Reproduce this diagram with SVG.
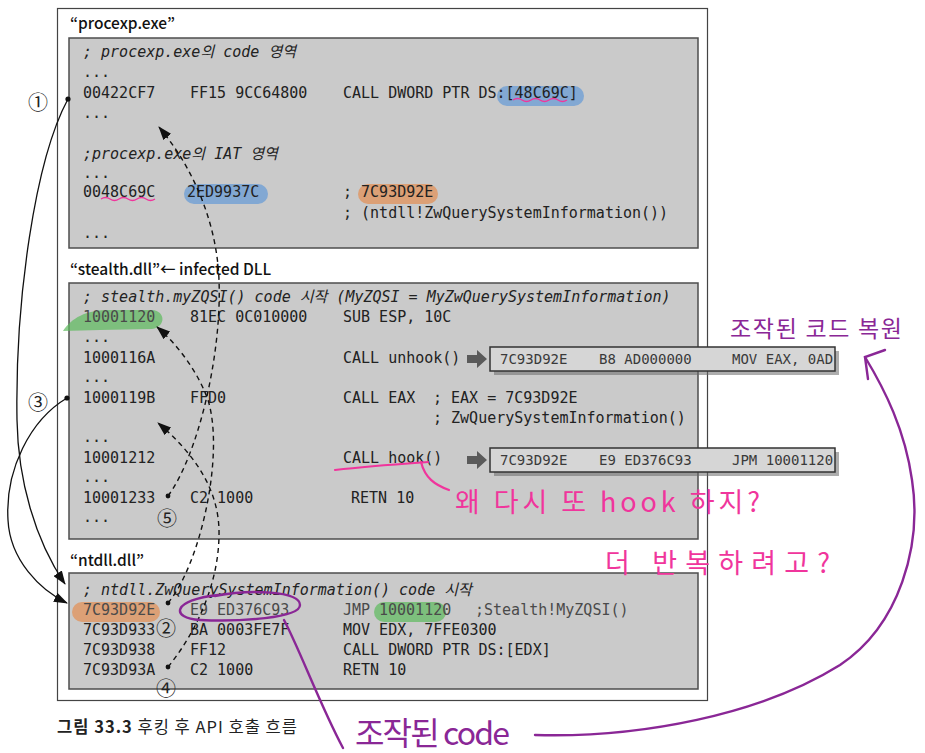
<svg xmlns="http://www.w3.org/2000/svg" width="925" height="753" viewBox="0 0 925 753">
<style>
.code{font-family:"DejaVu Sans Mono","Noto Sans CJK KR",monospace;font-size:15px;fill:#222}
.cm{font-style:italic}
.gr{fill:#4a4a4a}
.title{font-family:"Noto Sans CJK KR","Noto Sans",sans-serif;font-size:15.5px;font-weight:500;fill:#111}
.box{fill:#cacaca;stroke:#4d4d4d;stroke-width:1.5}
.pop{fill:#d6d6d6;stroke:#333;stroke-width:1.5}
.shadow{fill:#6a6a6a;opacity:0.55}
.popt{font-family:"DejaVu Sans Mono",monospace;font-size:14px;fill:#3a3a3a}
.garrow{fill:#5a5a5a}
.solid{fill:none;stroke:#111;stroke-width:1.3}
.dash{fill:none;stroke:#111;stroke-width:1.4;stroke-dasharray:5 4}
.dot{fill:#111}
.num{font-family:"Noto Sans CJK KR",sans-serif;font-size:20px;fill:#222}
.pink{fill:none;stroke:#f0359c;stroke-width:2.2;stroke-linecap:round}
.wave{fill:none;stroke:#f0359c;stroke-width:1.3}
.pinkt{font-family:"Noto Sans CJK KR",sans-serif;fill:#f0359c;font-weight:400}
.purp{fill:none;stroke:#8a2796;stroke-width:2.4;stroke-linecap:round}
.purpt{font-family:"Noto Sans CJK KR",sans-serif;fill:#8a2796;font-weight:400}
.blue{fill:#6f9fd4;opacity:0.8}
.orange{fill:#e2925a;opacity:0.75}
.green{fill:#5cbb5c;opacity:0.7}
</style>
<defs>
<marker id="ah" viewBox="0 0 14 10" refX="13" refY="5" markerWidth="14" markerHeight="10" orient="auto" markerUnits="userSpaceOnUse">
<path d="M0,0 L14,5 L0,10 z" fill="#111"/>
</marker>
</defs>
<rect width="925" height="753" fill="#fff"/>
<rect x="57.5" y="8.5" width="650" height="692" fill="none" stroke="#444" stroke-width="1.2"/>

<g id="procexp">
<text class="title" x="70" y="29">“procexp.exe”</text>
<rect class="box" x="69" y="38" width="629" height="210"/>
<rect class="blue" x="497" y="86" width="87" height="20" rx="10"/>
<rect class="blue" x="184" y="184" width="84" height="20" rx="10"/>
<rect class="orange" x="358" y="184" width="80" height="20" rx="10"/>
<text class="code cm" x="83" y="57">; procexp.exe의 code 영역</text>
<text class="code" x="83" y="77">...</text>
<text class="code" x="83" y="98">00422CF7</text>
<text class="code" x="190" y="98">FF15 9CC64800</text>
<text class="code" x="343" y="98">CALL DWORD PTR DS:[48C69C]</text>
<text class="code" x="83" y="118">...</text>
<text class="code cm" x="83" y="159">;procexp.exe의 IAT 영역</text>
<text class="code" x="83" y="178">...</text>
<text class="code" x="83" y="197">0048C69C</text>
<text class="code" x="187" y="197">2ED9937C</text>
<text class="code" x="343" y="197">; 7C93D92E</text>
<text class="code" x="343" y="218">; (ntdll!ZwQuerySystemInformation())</text>
<text class="code" x="83" y="238">...</text>
<path class="wave" d="M513 100 q4.5 -3 9 0 t9 0 t9 0 t9 0 t9 0 t9 0"/>
<path class="wave" d="M101 199 q4.5 -3 9 0 t9 0 t9 0 t9 0 t9 0 t9 0"/>
</g>

<g id="stealth">
<text class="title" x="70" y="275">“stealth.dll”← infected DLL</text>
<rect class="box" x="69" y="283" width="629" height="256"/>
<path class="green" d="M63 331 C72 318 85 310 110 310 L152 310 C166 311 166 327 152 329 L100 330 Z"/>
<text class="code cm" x="83" y="302">; stealth.myZQSI() code 시작 (MyZQSI = MyZwQuerySystemInformation)</text>
<text class="code gr" x="83" y="322">10001120</text>
<text class="code" x="190" y="322">81EC 0C010000</text>
<text class="code" x="343" y="322">SUB ESP, 10C</text>
<text class="code" x="83" y="342">...</text>
<text class="code" x="83" y="363">1000116A</text>
<text class="code" x="343" y="363">CALL unhook()</text>
<text class="code" x="83" y="382">...</text>
<text class="code" x="83" y="403">1000119B</text>
<text class="code" x="190" y="403">FFD0</text>
<text class="code" x="343" y="403">CALL EAX</text>
<text class="code" x="433" y="403">; EAX = 7C93D92E</text>
<text class="code" x="433" y="423">; ZwQuerySystemInformation()</text>
<text class="code" x="83" y="442">...</text>
<text class="code" x="83" y="463">10001212</text>
<text class="code" x="343" y="463">CALL hook()</text>
<text class="code" x="83" y="482">...</text>
<text class="code" x="83" y="503">10001233</text>
<text class="code" x="190" y="503">C2 1000</text>
<text class="code" x="351" y="503">RETN 10</text>
<text class="code" x="83" y="522">...</text>
</g>

<g id="ntdll">
<text class="title" x="70" y="566">“ntdll.dll”</text>
<rect class="box" x="69" y="573" width="629" height="116"/>
<rect class="orange" x="72" y="602" width="88" height="20" rx="10"/>
<rect class="green" x="374" y="602" width="72" height="20" rx="10"/>
<text class="code cm" x="83" y="595">; ntdll.ZwQuerySystemInformation() code 시작</text>
<text class="code gr" x="83" y="615">7C93D92E</text>
<text class="code gr" x="190" y="615">E9 ED376C93</text>
<text class="code gr" x="343" y="615">JMP</text>
<text class="code gr" x="379" y="615">10001120</text>
<text class="code gr" x="475" y="615">;Stealth!MyZQSI()</text>
<text class="code" x="83" y="635">7C93D933</text>
<text class="code" x="190" y="635">BA 0003FE7F</text>
<text class="code" x="343" y="635">MOV EDX, 7FFE0300</text>
<text class="code" x="83" y="655">7C93D938</text>
<text class="code" x="190" y="655">FF12</text>
<text class="code" x="343" y="655">CALL DWORD PTR DS:[EDX]</text>
<text class="code" x="83" y="675">7C93D93A</text>
<text class="code" x="190" y="675">C2 1000</text>
<text class="code" x="343" y="675">RETN 10</text>
</g>

<g id="popup-unhook">
<polygon class="garrow" points="467,355 477,355 477,350 487,359 477,368 477,363 467,363"/>
<rect class="shadow" x="494" y="351" width="345" height="24"/>
<rect class="pop" x="490" y="347" width="345" height="24"/>
<text class="popt" x="500" y="364" fill="#555">7C93D92E</text>
<text class="popt" x="599" y="364">B8 AD000000</text>
<text class="popt" x="732" y="364">MOV EAX, 0AD</text>
</g>

<g id="popup-hook">
<polygon class="garrow" points="467,456 477,456 477,451 487,460 477,469 477,464 467,464"/>
<rect class="shadow" x="494" y="452" width="345" height="24"/>
<rect class="pop" x="490" y="448" width="345" height="24"/>
<text class="popt" x="500" y="465">7C93D92E</text>
<text class="popt" x="599" y="465">E9 ED376C93</text>
<text class="popt" x="732" y="465">JPM 10001120</text>
</g>

<g id="connectors">
<path class="solid" d="M68 99 C35 160 15 300 17 420 C18 480 35 540 65 584" marker-end="url(#ah)"/>
<path class="solid" d="M67 398 C30 420 5 470 8 520 C10 560 40 590 67 603" marker-end="url(#ah)"/>
<path class="dash" d="M168 603 C200 565 225 455 208 400 C198 372 178 345 157 327" marker-end="url(#ah)"/>
<path class="dash" d="M168 667 C198 630 220 580 219 530 C218 485 190 450 158 423" marker-end="url(#ah)"/>
<path class="dash" d="M168 496 C198 455 222 355 219 280 C217 225 195 170 159 127" marker-end="url(#ah)"/>
<circle class="dot" cx="68" cy="99" r="2.6"/>
<circle class="dot" cx="67" cy="398" r="2.6"/>
<circle class="dot" cx="168" cy="603" r="2.4"/>
<circle class="dot" cx="168" cy="667" r="2.4"/>
<circle class="dot" cx="168" cy="496" r="2.4"/>
<text class="num" x="38" y="101" text-anchor="middle" dominant-baseline="central">①</text>
<text class="num" x="38" y="401" text-anchor="middle" dominant-baseline="central">③</text>
<text class="num" x="166" y="627" text-anchor="middle" dominant-baseline="central">②</text>
<text class="num" x="166" y="687" text-anchor="middle" dominant-baseline="central">④</text>
<text class="num" x="167" y="517" text-anchor="middle" dominant-baseline="central">⑤</text>
</g>

<g id="notes">
<path class="pink" d="M335 470 C370 466 400 464 428 462"/>
<path class="pink" d="M421 462 C425 478 435 485 449 490"/>
<text class="pinkt" x="455" y="512" font-size="27" textLength="305" lengthAdjust="spacing">왜 다시 또 hook 하지?</text>
<text class="pinkt" x="605" y="573" font-size="27" textLength="225" lengthAdjust="spacing">더 반복하려고?</text>
<path class="purp" d="M215 596 C250 589 300 591 300 605 C300 618 240 622 200 620 C170 618 172 600 218 595"/>
<path class="purp" d="M284 620 C300 650 320 705 343 748"/>
<text class="purpt" x="730" y="337" font-size="23" textLength="172" lengthAdjust="spacing">조작된 코드 복원</text>
<text class="purpt" x="355" y="745" font-size="32" textLength="155" lengthAdjust="spacing">조작된 code</text>
<path class="purp" d="M535 735 C640 738 760 715 840 665 C900 625 922 545 912 480 C905 430 885 390 865 357"/>
<path class="purp" d="M885 350 L865 357 L868 379"/>
</g>

<g id="caption">
<text x="57" y="733" font-family="Noto Sans CJK KR, sans-serif" font-size="16.5" fill="#222" textLength="240" lengthAdjust="spacing"><tspan font-weight="700">그림 33.3</tspan> 후킹 후 API 호출 흐름</text>
</g>
</svg>
